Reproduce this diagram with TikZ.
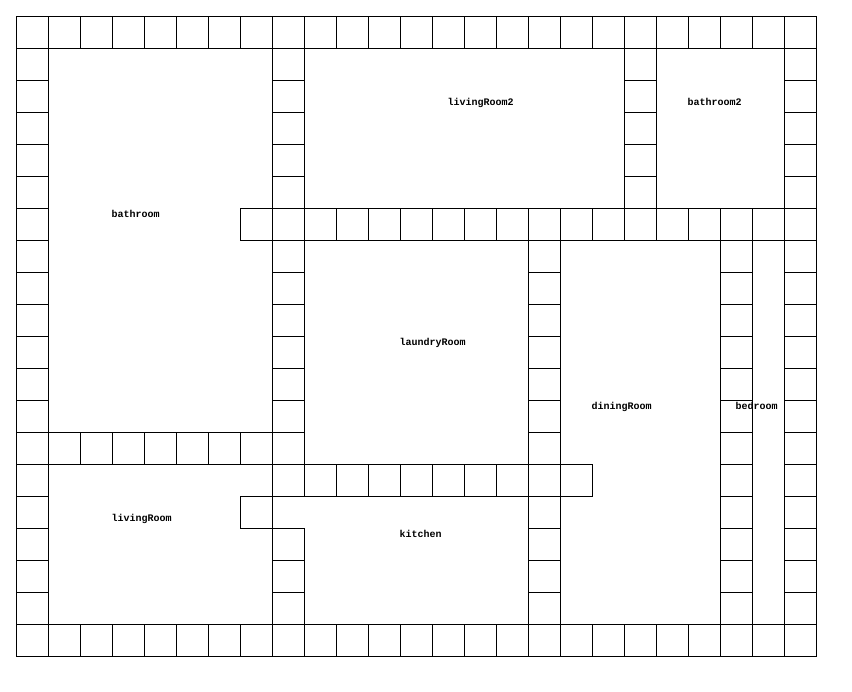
\documentclass[tikz,border=0pt]{standalone}
\usepackage{fontspec}
\setmonofont{Liberation Mono}
\tikzset{
  x=1pt,y=-1pt,
  wallcell/.style={draw=black,line width=1pt,fill=none},
  roomlabel/.style={anchor=base west,inner sep=0pt,font=\ttfamily\bfseries\fontsize{10}{10}\selectfont,text=black}
}
\newcommand{\wallcell}[2]{\draw[wallcell] ({16.5+32*#1},{16.5+32*#2}) rectangle ++(32,32);}
\begin{document}
\begin{tikzpicture}
\useasboundingbox (0,0) rectangle (852,692);
% outer ring
\foreach \c in {0,...,24} {\wallcell{\c}{0}\wallcell{\c}{19}}
\foreach \r in {1,...,18} {\wallcell{0}{\r}\wallcell{24}{\r}}
% horizontal walls
\foreach \c in {7,...,23} {\wallcell{\c}{6}}
\foreach \c in {1,...,8} {\wallcell{\c}{13}}
\foreach \c in {8,...,17} {\wallcell{\c}{14}}
\wallcell{7}{15}
% vertical walls
\foreach \r in {1,...,5} {\wallcell{8}{\r}\wallcell{19}{\r}}
\foreach \r in {7,...,12} {\wallcell{8}{\r}}
\foreach \r in {16,17,18} {\wallcell{8}{\r}}
\foreach \r in {7,...,13} {\wallcell{16}{\r}}
\foreach \r in {15,...,18} {\wallcell{16}{\r}}
\foreach \r in {7,...,18} {\wallcell{22}{\r}}
% labels
\node[roomlabel] (bathroom) at (111.5,217.6) {bathroom};
\node[roomlabel] (livingroomtwo) at (447.5,105.6) {livingRoom2};
\node[roomlabel] (bathroomtwo) at (687.5,105.6) {bathroom2};
\node[roomlabel] (laundryroom) at (399.5,345.6) {laundryRoom};
\node[roomlabel] (diningroom) at (591.5,409.6) {diningRoom};
\node[roomlabel] (bedroom) at (735.5,409.6) {bedroom};
\node[roomlabel] (livingroom) at (111.5,521.6) {livingRoom};
\node[roomlabel] (kitchen) at (399.5,537.6) {kitchen};
\end{tikzpicture}
\end{document}
